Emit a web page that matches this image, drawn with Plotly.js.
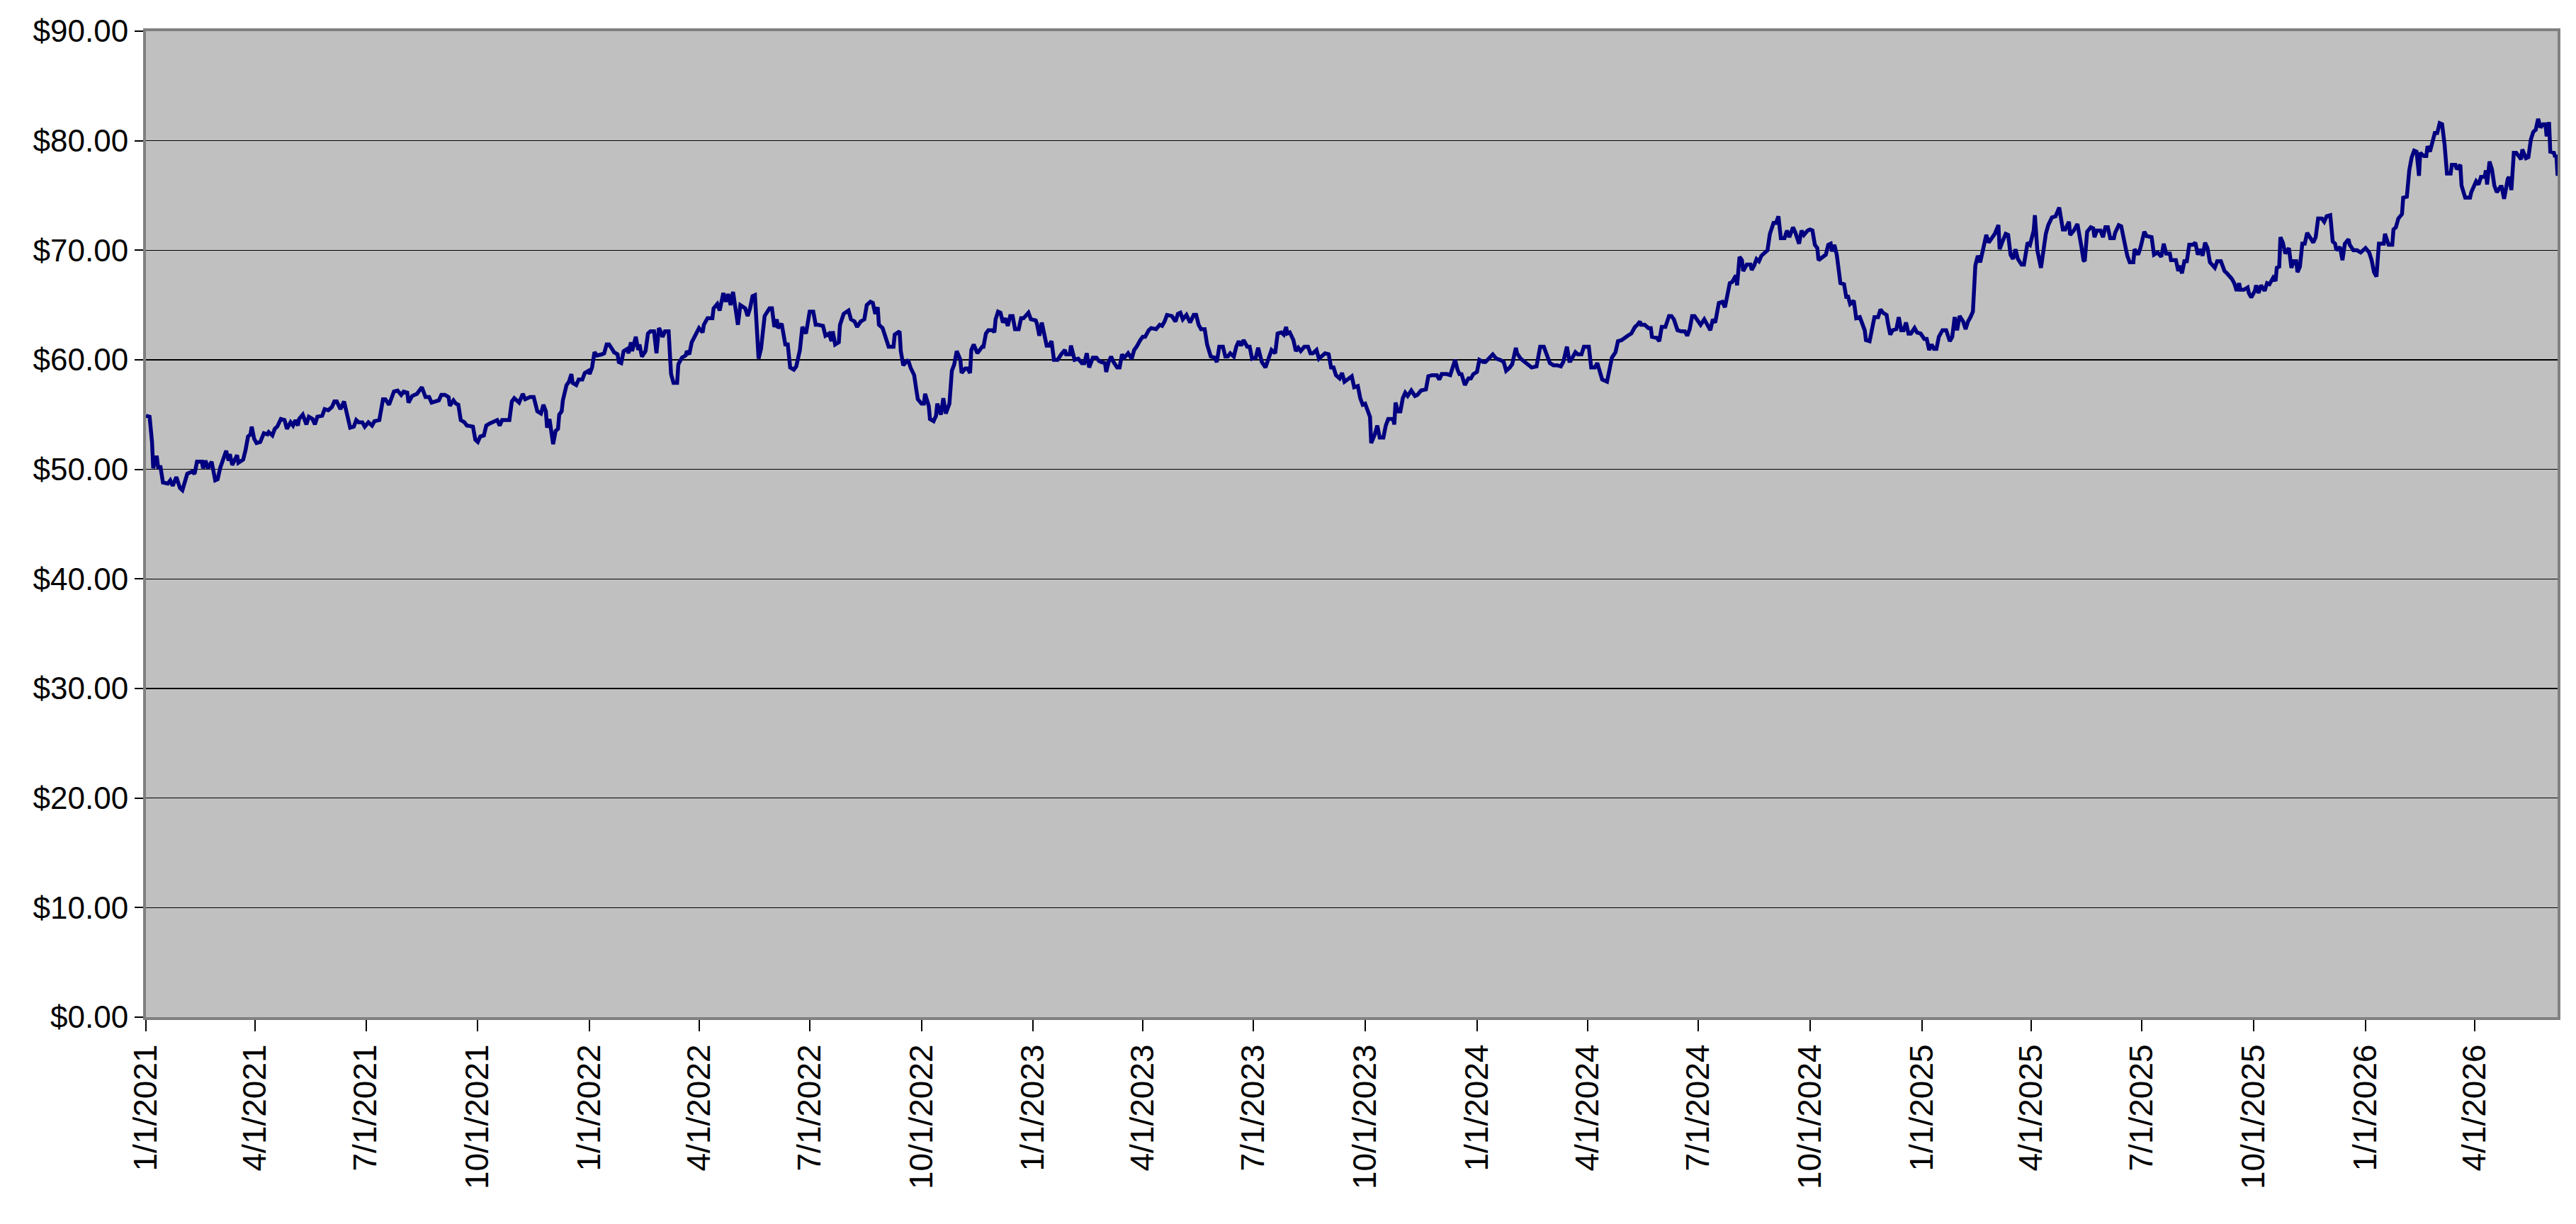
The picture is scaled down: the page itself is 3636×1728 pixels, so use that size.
<!DOCTYPE html>
<html>
<head>
<meta charset="utf-8">
<script src="https://cdn.plot.ly/plotly-3.0.1.min.js"></script>
<style>
  html, body { margin: 0; padding: 0; background: #fff; }
  #chart { width: 3636px; height: 1728px; }
</style>
</head>
<body>
<div id="chart"></div>
<script>
// ---- data --------------------------------------------------------------------
const START_DATE = '2021-01-01';

// days since START_DATE
const DAYS = [
  // 2021
  0,3,5,6,8,9,10,12,14,18,
  20,22,25,28,30,32,34,38,40,42,
  46,47,49,51,54,57,59,61,63,66,
  68,69,71,75,76,80,82,84,86,87,
  89,91,94,97,100,101,104,106,108,111,
  114,116,119,121,123,125,126,129,132,134,
  137,139,141,145,147,150,153,155,157,160,
  163,166,168,171,173,175,178,180,183,186,
  188,192,195,197,200,202,204,207,210,212,
  215,216,219,223,225,227,230,233,235,238,
  241,243,246,249,250,253,255,257,259,262,
  264,269,271,273,275,278,280,283,287,289,
  291,293,297,299,301,303,307,310,312,316,
  319,322,325,327,329,330,332,335,337,339,
  340,342,343,346,
  // 2022
  348,350,351,354,356,359,361,364,365,367,
  369,371,375,377,379,381,384,385,388,389,
  391,393,396,397,399,400,403,405,406,408,
  411,413,415,418,420,422,423,425,427,430,
  432,434,437,438,441,444,445,447,449,452,
  455,458,459,462,466,467,470,472,475,477,
  479,481,483,485,487,489,491,493,495,497,
  499,501,504,506,509,511,513,515,517,519,
  520,523,526,528,530,533,535,538,540,543,
  546,549,551,553,557,559,562,564,565,567,
  570,571,574,578,580,583,585,588,591,593,
  596,598,600,602,603,606,609,611,615,616,
  620,621,623,627,629,632,634,635,638,640,
  641,644,645,648,650,651,654,656,658,661,
  663,665,667,670,671,674,676,678,679,681,
  684,
  // 2023
  688,689,691,693,697,698,699,701,703,705,
  707,709,711,713,715,718,720,722,724,726,
  728,732,733,735,737,739,741,743,745,747,
  750,753,756,757,760,761,764,767,770,772,
  774,776,779,782,784,786,789,790,792,794,
  796,799,801,803,805,808,811,813,815,818,
  820,822,825,827,831,834,836,838,840,844,
  847,849,851,853,856,859,862,864,866,868,
  871,873,876,879,881,883,886,888,890,892,
  895,897,899,901,903,906,908,910,913,915,
  918,921,924,926,929,931,934,936,938,939,
  941,944,946,948,950,953,956,958,960,963,
  965,967,970,973,975,977,979,982,984,986,
  989,992,994,997,999,1001,1003,1005,1007,1008,
  1011,1013,1015,1018,1020,1022,
  // 2024
  1026,1027,1028,1030,1032,1034,1036,1038,1041,1044,
  1046,1049,1053,1055,1058,1062,1064,1066,1070,1073,
  1075,1077,1079,1081,1082,1085,1088,1090,1092,1095,
  1097,1100,1102,1105,1108,1111,1114,1117,1119,1122,
  1124,1127,1128,1131,1134,1137,1140,1144,1147,1150,
  1152,1155,1158,1161,1164,1166,1169,1171,1172,1176,
  1178,1181,1183,1187,1189,1192,1194,1196,1198,1202,
  1204,1206,1209,1211,1214,1216,1219,1222,1225,1227,
  1229,1230,1233,1236,1238,1239,1243,1245,1247,1250,
  1253,1255,1257,1260,1263,1266,1268,1270,1272,1274,
  1276,1279,1282,1285,1287,1289,1291,1294,1297,1299,
  1303,1305,1308,1309,1311,1313,1314,1317,1320,1321,
  1323,1325,1327,1329,1332,1334,1336,1339,1341,1343,
  1345,1348,1350,1352,1355,1357,1360,
  // 2025
  1362,1364,1367,1369,1371,1373,1375,1376,1379,1382,
  1384,1386,1387,1389,1391,1393,1394,1397,1399,1400,
  1402,1405,1407,1410,1412,1414,1415,1418,1420,1422,
  1425,1427,1429,1432,1433,1435,1437,1440,1442,1444,
  1446,1448,1450,1452,1455,1457,1460,1463,1465,1467,
  1469,1471,1473,1475,1478,1481,1484,1486,1488,1490,
  1492,1495,1497,1499,1501,1503,1505,1507,1509,1511,
  1514,1516,1519,1521,1524,1525,1527,1530,1532,1534,
  1536,1538,1540,1543,1545,1548,1550,1553,1554,1556,
  1559,1561,1563,1565,1568,1571,1574,1577,1579,1582,
  1583,1586,1589,1592,1594,1595,1597,1600,1602,1603,
  1605,1608,1610,1612,1614,1616,1619,1620,1623,1625,
  1627,1630,1632,1635,1636,1639,1641,1644,1646,1650,
  1652,1655,1658,1660,1662,1665,1666,1670,1672,1673,
  1675,1677,1679,1681,1684,1686,1688,1690,1692,1694,
  1696,1698,
  // 2026
  1702,1704,1707,1710,1712,1714,1716,1718,1720,1722,
  1723,1726,1729,1730,1732,1735,1736,1738,1740,1743,
  1745,1747,1750,1752,1753,1755,1756,1758,1760,1763,
  1765,1767,1769,1770,1772,1774,1776,1778,1781,1783,
  1785,1787,1790,1792,1794,1797,1799,1801,1802,1805,
  1807,1809,1812,1813,1816,1819,1822,1826,1829,1831,
  1833,1835,1837,1841,1842,1845,1848,1849,1851,1853,
  1856,1857,1860,1862,1864,1866,1868,1870,1871,1874,
  1876,1877,1879,1881,1883,1885,1887,1889,1891,1893,
  1896,1897,1900,1901,1904,1905,1908,1910,1912,1913,
  1915,1917,1919,1921,1924,1925,1926,1928,1930,1932,
  1934,1937,1938,1940,1943,1944,1946,1948,1950,1952,
  1954,1955,1958,1960,1962,1964,1966,1968,1970,1972,
  1974,1975,1977,1978,1981,1982,1983,1984,
];

// price in dollars, same order as DAYS
const PRICES = [
  // 2021
  54.9,54.8,52.5,50.1,51.1,51.1,50.2,50.2,48.8,48.7,
  49.0,48.5,49.3,48.3,48.1,49.0,49.6,49.8,49.6,50.7,
  50.7,50.1,50.8,50.1,50.7,49.0,49.1,50.1,50.8,51.7,
  50.8,51.4,50.4,51.3,50.6,50.9,51.8,53.0,53.2,53.9,
  52.8,52.4,52.5,53.3,53.2,53.4,53.1,53.7,53.9,54.6,
  54.5,53.7,54.3,54.0,54.5,54.0,54.6,55.0,54.1,54.8,
  54.6,54.1,54.8,54.9,55.5,55.4,55.7,56.2,56.2,55.5,
  56.2,54.8,53.8,53.9,54.5,54.3,54.3,53.9,54.3,54.0,
  54.4,54.5,56.4,56.4,55.9,56.5,57.1,57.2,56.8,57.1,
  57.0,56.1,56.7,56.9,57.2,57.5,56.6,56.6,56.1,56.2,
  56.3,56.8,56.8,56.6,55.8,56.3,56.0,55.9,54.5,54.3,
  54.0,53.9,52.7,52.5,53.0,53.1,54.0,54.2,54.4,54.5,
  54.0,54.5,54.5,54.5,56.2,56.5,56.1,56.9,56.4,56.6,
  56.6,55.3,55.1,55.9,55.3,53.8,54.6,52.3,53.5,53.7,
  55.0,55.3,56.3,57.7,
  // 2022
  58.0,58.7,57.9,57.7,58.2,58.2,58.8,59.0,58.7,59.3,
  60.7,60.4,60.5,60.6,61.4,61.4,60.9,60.7,60.5,59.8,
  59.7,60.8,61.0,60.6,61.6,60.8,62.1,60.9,61.4,60.3,
  60.8,62.4,62.6,62.6,60.6,62.9,62.7,62.1,62.6,62.6,
  58.7,57.9,57.9,59.6,60.2,60.4,60.8,60.5,61.6,62.2,
  62.9,62.5,63.2,63.8,63.8,64.7,65.1,64.5,66.1,65.3,
  66.0,65.0,66.2,64.7,63.2,65.0,64.8,64.7,64.0,64.7,
  65.8,65.9,60.1,61.0,64.0,64.4,64.7,64.7,63.0,63.7,
  62.9,63.3,61.4,61.4,59.3,59.1,59.4,60.9,63.0,62.4,
  64.4,64.4,63.2,63.2,63.1,62.2,62.4,61.7,62.6,61.4,
  61.6,63.2,64.2,64.5,63.7,63.5,63.0,63.5,63.7,65.0,
  65.3,65.2,64.2,64.8,63.2,62.9,61.7,61.2,61.2,62.3,
  62.6,60.8,59.5,60.0,59.3,58.6,57.1,56.4,56.0,56.0,
  56.9,55.8,54.6,54.4,54.9,56.0,55.0,56.5,55.1,56.0,
  59.0,59.6,60.8,60.0,58.8,59.2,59.2,58.8,60.9,61.4,
  60.6,
  // 2023
  61.2,61.2,62.4,62.7,62.7,62.5,63.7,64.4,64.3,63.4,
  63.8,63.1,64.0,64.0,62.8,62.8,63.8,63.8,64.0,64.3,
  63.7,63.6,63.3,62.2,63.4,62.2,61.3,61.3,61.7,60.0,
  60.0,60.5,60.9,60.5,60.5,61.3,60.0,60.1,59.7,59.7,
  60.6,59.3,60.2,60.2,59.9,59.8,59.7,58.9,59.8,60.3,
  59.8,59.3,59.3,60.5,60.2,60.6,60.1,60.9,61.2,61.8,
  62.1,62.1,62.7,62.9,62.8,63.2,63.1,63.5,64.1,64.0,
  63.5,64.2,64.3,63.7,64.1,63.4,64.1,64.1,63.2,62.8,
  62.8,61.4,60.3,60.2,59.8,61.2,61.2,60.3,60.3,60.6,
  60.3,61.2,61.7,61.3,61.8,61.2,61.2,60.1,60.2,61.1,
  59.8,59.3,60.2,60.9,60.6,62.4,62.5,62.3,63.0,62.4,
  62.5,61.8,60.8,61.1,60.8,61.2,61.2,60.6,60.6,60.9,
  60.1,60.3,60.6,60.5,59.3,59.3,58.6,58.3,58.8,58.0,
  58.2,58.5,57.5,57.6,56.5,55.9,56.0,55.3,54.8,52.4,
  53.2,54.0,52.9,52.9,54.0,54.6,
  // 2024
  54.6,54.1,56.1,55.3,55.3,56.5,57.0,56.7,57.2,56.7,
  56.8,57.2,57.3,58.5,58.6,58.6,58.2,58.7,58.7,58.6,
  59.3,60.0,59.1,58.6,58.8,57.7,58.3,58.3,58.7,58.9,
  60.0,59.8,59.8,60.1,60.5,60.1,60.0,59.8,59.0,59.3,
  59.6,61.1,60.6,60.1,59.8,59.6,59.3,59.4,61.2,61.2,
  60.6,59.7,59.5,59.5,59.4,59.8,61.2,59.9,59.9,60.7,
  60.5,60.5,61.2,61.2,59.3,59.3,59.7,59.0,58.2,58.0,
  59.0,60.2,60.7,61.7,61.8,62.0,62.2,62.4,63.0,63.2,
  63.5,63.2,63.2,62.9,62.9,62.1,62.0,61.7,63.0,63.0,
  64.0,64.0,63.7,62.7,62.6,62.6,62.2,62.8,64.0,64.0,
  63.7,63.2,63.7,63.1,62.7,63.7,63.4,65.2,65.3,64.8,
  67.0,67.1,67.7,66.8,69.4,69.1,68.1,68.7,68.7,68.2,
  68.6,69.2,69.0,69.5,69.8,70.0,71.5,72.5,72.5,73.1,
  71.1,71.1,71.8,71.2,72.1,71.6,70.6,
  // 2025
  71.8,71.4,71.8,71.9,71.8,70.5,70.2,69.1,69.4,69.6,
  70.5,70.6,69.9,70.5,69.6,67.9,67.0,66.9,65.6,65.9,
  65.1,65.4,63.8,63.9,63.3,62.7,61.8,61.7,62.8,63.9,
  63.9,64.6,64.3,64.1,63.4,62.3,62.7,62.8,63.9,62.7,
  62.7,63.4,62.4,62.4,62.9,62.5,62.4,61.9,61.9,60.9,
  61.4,61.0,61.0,62.1,62.7,62.7,61.7,62.1,63.9,62.7,
  64.0,63.5,62.8,63.5,63.9,64.4,68.6,69.5,68.9,70.0,
  71.4,70.7,71.1,71.5,72.3,70.1,70.7,71.5,71.4,69.6,
  69.2,70.1,69.2,68.7,68.7,70.7,70.5,71.8,73.2,70.0,
  68.4,70.1,71.5,72.3,73.0,73.1,73.9,71.9,71.9,72.6,
  71.4,71.8,72.4,70.5,69.1,69.0,71.7,72.1,72.0,71.2,
  71.8,71.8,71.2,72.1,72.1,71.1,71.1,71.6,72.3,72.2,
  71.1,69.5,68.9,68.9,70.1,69.6,70.3,71.7,71.3,71.2,
  69.6,69.8,69.4,70.6,69.7,69.7,69.1,69.1,68.1,68.6,
  67.9,69.0,69.0,70.5,70.5,70.7,69.6,70.1,69.5,70.7,
  70.2,68.9,
  // 2026
  68.4,69.0,69.0,68.1,67.9,67.7,67.4,67.0,66.3,67.0,
  66.4,66.4,66.6,66.1,65.7,66.3,66.8,66.1,66.8,66.3,
  67.0,66.9,67.5,67.2,68.4,68.5,71.2,70.7,69.7,70.2,
  68.4,69.0,69.0,68.0,68.5,70.6,70.6,71.6,71.1,70.7,
  71.2,72.9,72.9,72.6,73.1,73.2,70.8,70.6,70.0,70.3,
  69.1,70.6,71.0,70.5,70.0,70.0,69.8,70.2,69.8,69.1,
  68.0,67.6,70.6,70.6,71.5,70.5,70.5,71.9,72.1,72.9,
  73.3,74.8,74.9,77.3,78.5,79.1,79.0,76.8,78.9,78.6,
  78.6,79.5,79.0,80.0,80.7,80.7,81.6,81.5,79.7,77.0,
  77.0,77.8,77.8,77.4,77.8,75.9,74.8,74.8,74.8,75.3,
  75.8,76.3,76.0,76.7,76.7,77.3,76.0,78.1,77.4,75.9,
  75.3,75.8,75.8,74.7,76.5,76.7,75.5,78.9,78.9,78.6,
  78.3,79.2,78.4,78.5,80.1,80.8,81.0,82.0,81.2,81.5,
  81.5,80.4,81.7,79.0,78.9,78.5,78.7,76.8,
];

const X_TICK_LABELS = [
  '1/1/2021', '4/1/2021', '7/1/2021', '10/1/2021',
  '1/1/2022', '4/1/2022', '7/1/2022', '10/1/2022',
  '1/1/2023', '4/1/2023', '7/1/2023', '10/1/2023',
  '1/1/2024', '4/1/2024', '7/1/2024', '10/1/2024',
  '1/1/2025', '4/1/2025', '7/1/2025', '10/1/2025',
  '1/1/2026', '4/1/2026',
];

const Y_TICKS = [0, 10, 20, 30, 40, 50, 60, 70, 80, 90];

// ---- helpers -----------------------------------------------------------------
function dayToISO(d) {
  const t = Date.parse(START_DATE + 'T00:00:00Z') + d * 86400000;
  return new Date(t).toISOString().slice(0, 10);
}
function mdyToISO(s) {
  const [m, d, y] = s.split('/').map(Number);
  return `${y}-${String(m).padStart(2, '0')}-${String(d).padStart(2, '0')}`;
}

if (DAYS.length !== PRICES.length) {
  console.error('length mismatch', DAYS.length, PRICES.length);
}

const xs = DAYS.map(dayToISO);

const FONT = { family: '"Liberation Sans", Arial, sans-serif', color: '#000' };

const traces = [{
  type: 'scatter', mode: 'lines',
  x: xs, y: PRICES,
  line: { color: '#000080', width: 5.5 },
  hoverinfo: 'skip',
}];

const layout = {
  width: 3636, height: 1728,
  paper_bgcolor: '#ffffff',
  plot_bgcolor: '#c0c0c0',
  showlegend: false,
  margin: { l: 206, r: 26, t: 44, b: 292, pad: 0 },
  font: { ...FONT, size: 40 },
  xaxis: {
    type: 'date',
    range: [xs[0], xs[xs.length - 1]],
    tickmode: 'array',
    tickvals: X_TICK_LABELS.map(mdyToISO),
    ticktext: X_TICK_LABELS,
    tickangle: -90,
    tickfont: { ...FONT, size: 46 },
    ticks: 'outside', ticklen: 16, tickwidth: 2, tickcolor: '#000',
    showgrid: false, zeroline: false,
    showline: true, linecolor: '#808080', linewidth: 4, mirror: true,
  },
  yaxis: {
    range: [0, 90],
    tickmode: 'array',
    tickvals: Y_TICKS,
    tickformat: '$.2f',
    tickfont: { ...FONT, size: 44 },
    ticks: 'outside', ticklen: 12, tickwidth: 2, tickcolor: '#000',
    showgrid: true, gridcolor: '#000000', gridwidth: 1.5,
    zeroline: false,
    showline: true, linecolor: '#808080', linewidth: 4, mirror: true,
  },
};

Plotly.newPlot('chart', traces, layout, { displayModeBar: false, staticPlot: true });
</script>
</body>
</html>
